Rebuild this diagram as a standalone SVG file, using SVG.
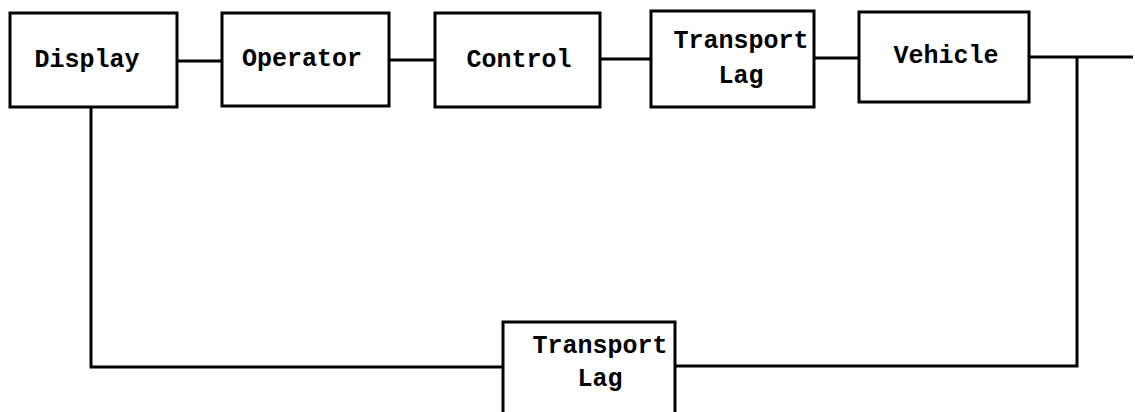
<svg xmlns="http://www.w3.org/2000/svg" width="1135" height="412" viewBox="0 0 1135 412">
<style>
.box{fill:#fff;stroke:#000;stroke-width:3}
.wire{fill:none;stroke:#000;stroke-width:3}
.t{font-family:"Liberation Mono","Courier New",monospace;font-size:25px;font-weight:bold;fill:#000;text-anchor:middle}
</style>
<rect width="1135" height="412" fill="#fff"/>
<g id="connectors">
<line class="wire" x1="177" y1="61" x2="222" y2="61"/>
<line class="wire" x1="389" y1="60" x2="435" y2="60"/>
<line class="wire" x1="600" y1="59" x2="651" y2="59"/>
<line class="wire" x1="814" y1="58" x2="859" y2="58"/>
<line class="wire" x1="1029" y1="57" x2="1133" y2="57"/>
<polyline class="wire" points="1077,57 1077,366 675,366"/>
<polyline class="wire" points="503,367 91,367 91,107"/>
</g>
<g id="display"><rect class="box" x="10" y="13" width="167" height="94"/><text class="t" x="87" y="67">Display</text></g>
<g id="operator"><rect class="box" x="222" y="13" width="167" height="93"/><text class="t" x="302" y="66">Operator</text></g>
<g id="control"><rect class="box" x="435" y="13" width="165" height="94"/><text class="t" x="519" y="67">Control</text></g>
<g id="transport-lag-top"><rect class="box" x="651" y="11" width="163" height="96"/><text class="t" x="741" y="48">Transport</text><text class="t" x="741" y="83">Lag</text></g>
<g id="vehicle"><rect class="box" x="859" y="12" width="170" height="90"/><text class="t" x="946" y="63">Vehicle</text></g>
<g id="transport-lag-bottom"><rect class="box" x="503" y="322" width="172" height="100"/><text class="t" x="600" y="353">Transport</text><text class="t" x="600" y="386">Lag</text></g>
</svg>
